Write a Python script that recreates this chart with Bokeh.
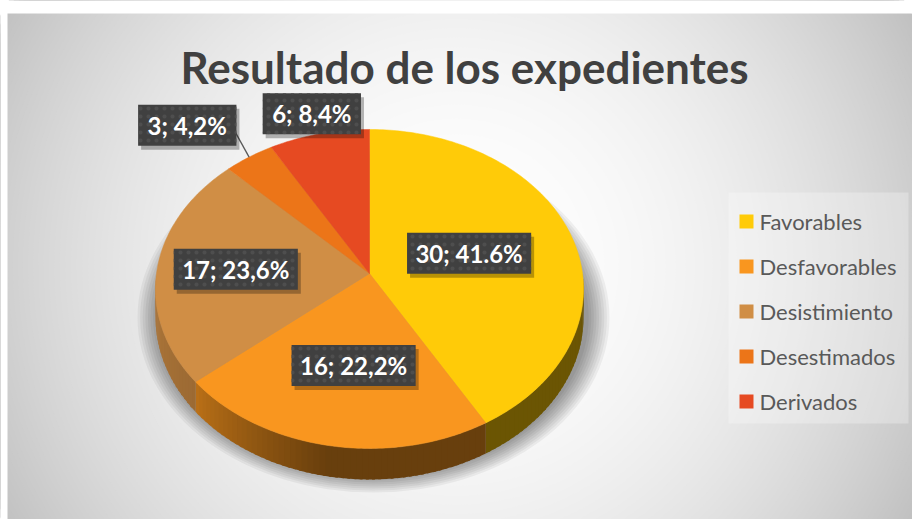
import math
import numpy as np
from bokeh.plotting import figure
from bokeh.models import Range1d, ColumnDataSource
from bokeh.core.properties import value
from bokeh.embed import file_html
from bokeh.resources import INLINE

# ---------------- data ----------------
title_text = "Resultado de los expedientes"
categories = ["Favorables", "Desfavorables", "Desistimiento", "Desestimados", "Derivados"]
counts = [30, 16, 17, 3, 6]
label_texts = ["30; 41.6%", "16; 22,2%", "17; 23,6%", "3; 4,2%", "6; 8,4%"]

# ---------------- styles / layout ----------------
colors = ["#FFCB08", "#F9961F", "#D08E45", "#EC7518", "#E64A22"]
label_f = [0.5, 0.56, 0.63, 1.3, 1.16]
label_dx = [-2, 6, 0, -29, 0]
label_leader = [False, False, False, True, False]

W, H = 912, 519
p = figure(width=W, height=H, x_range=Range1d(0, W), y_range=Range1d(H, 0),
           output_backend="svg", toolbar_location=None, min_border=0,
           x_axis_location=None, y_axis_location=None)
p.grid.visible = False
p.outline_line_color = None
p.background_fill_color = "white"
p.border_fill_color = "white"

# ---------------- radial background ----------------
bcx, bcy = 456, 266
rmax = math.hypot(456, 260)
p.quad(left=[7], right=[912], top=[13], bottom=[519], fill_color="#c0c0c0", line_color=None)
rings_r, rings_c = [], []
for g in range(193, 256):
    r = rmax * math.sqrt((255 - g) / 63.0)
    rings_r.append(2 * r)
    rings_c.append("#%02x%02x%02x" % (g, g, g))
p.ellipse(x=[bcx] * len(rings_r), y=[bcy] * len(rings_r), width=rings_r, height=rings_r,
          fill_color=rings_c, line_color=None)
p.quad(left=[0], right=[912], top=[0], bottom=[13], fill_color="white", line_color=None)
p.quad(left=[0], right=[7], top=[0], bottom=[519], fill_color="white", line_color=None)

# legend panel
p.quad(left=[728], right=[908], top=[192], bottom=[423], fill_color="white", fill_alpha=0.28,
       line_color=None)

# ---------------- pie geometry ----------------
cx, cy = 369, 273
Rx, Ry = 213, 158
k = 0.097
D = 28


def proj(th_deg, f=1.0):
    th = math.radians(th_deg)
    w = 1 + k * f * math.cos(th)
    return cx + Rx * f * math.sin(th) / w, cy - Ry * f * math.cos(th) / w


def depth(th_deg):
    return D / (1 + k * math.cos(math.radians(th_deg)))


total = float(sum(counts))
starts, ends = [], []
acc = 0.0
for c in counts:
    starts.append(360.0 * acc / total)
    acc += c
    ends.append(360.0 * acc / total)

# shadow
for i in range(9):
    p.ellipse(x=[cx + 4], y=[cy + 44], width=[2 * (236 - 2.6 * i)], height=[2 * (175 - 2.0 * i)],
              fill_color="black", fill_alpha=0.05, line_color=None)


def shade(th):
    if th <= 190:
        return 0.42
    if th <= 230:
        return 0.42 + (th - 190) / 40.0 * 0.33
    return 0.75 + (th - 230) / 40.0 * 0.1


def darken(hexc, f):
    r, g, b = int(hexc[1:3], 16), int(hexc[3:5], 16), int(hexc[5:7], 16)
    return "#%02x%02x%02x" % (int(r * f), int(g * f), int(b * f))


# sides (strips overlap slightly to avoid seams)
sx, sy, sc = [], [], []
for s, e, col in zip(starts, ends, colors):
    a, b = max(s, 90.0), min(e, 270.0)
    if a >= b:
        continue
    n = max(2, int((b - a) / 1.5))
    ths = np.linspace(a, b, n + 1)
    for t1, t2 in zip(ths[:-1], ths[1:]):
        t2o = min(t2 + 0.7, b)
        x1, y1 = proj(t1)
        x2, y2 = proj(t2o)
        sx.append([x1, x2, x2, x1])
        sy.append([y1, y2, y2 + depth(t2o), y1 + depth(t1)])
        sc.append(darken(col, shade((t1 + t2) / 2)))
p.patches(xs=sx, ys=sy, fill_color=sc, line_color=None)

# top faces
tx, ty = [], []
for s, e in zip(starts, ends):
    ths = np.linspace(s, e, max(3, int(e - s) + 1))
    pts = [proj(t) for t in ths]
    tx.append([cx] + [q[0] for q in pts])
    ty.append([cy] + [q[1] for q in pts])
p.patches(xs=tx, ys=ty, fill_color=colors, line_color=colors, line_width=0.5)

# ---------------- data labels ----------------
lx, ly, lw = [], [], []
for s, e, f, dx, txt in zip(starts, ends, label_f, label_dx, label_texts):
    x, y = proj((s + e) / 2, f)
    lx.append(x + dx)
    ly.append(y)
    lw.append(12.9 * len(txt) + 8)

# leader lines
for s, e, x, y, w, lead in zip(starts, ends, lx, ly, lw, label_leader):
    if lead:
        ex, ey = proj((s + e) / 2, 1.0)
        p.line(x=[ex, x + w / 2 - 1], y=[ey, y + 7], line_color="#595959", line_width=1.3)

src = ColumnDataSource(dict(x=lx, y=ly, w=lw, t=label_texts,
                            xs=[v + 3 for v in lx], ys=[v + 4 for v in ly]))
p.rect(x="xs", y="ys", width="w", height=41, source=src, fill_color="black", fill_alpha=0.28,
       line_color=None)
p.rect(x="x", y="y", width="w", height=41, source=src, fill_color="#404040", line_color=None,
       hatch_pattern="dot", hatch_color="#4e4e4e", hatch_scale=8, hatch_weight=1)
p.text(x="x", y="y", text="t", source=src, text_font=value("Lato"), text_font_size="24px",
       text_font_style="bold", text_color="white", text_align="center", text_baseline="middle")

# ---------------- title ----------------
p.text(x=[464], y=[66], text=[title_text], text_font=value("Lato"), text_font_size="44px",
       text_font_style="bold", text_color="#404040", text_align="center",
       text_baseline="middle")

# ---------------- legend ----------------
rows = [221 + 45 * i for i in range(len(categories))]
p.rect(x=[746] * len(rows), y=rows, width=14, height=14, fill_color=colors, line_color=None)
p.text(x=[759] * len(rows), y=rows, text=categories, text_font=value("Lato"),
       text_font_size="22px", text_color="#595959", text_align="left", text_baseline="middle")

open("out.html", "w").write(file_html(p, INLINE))
